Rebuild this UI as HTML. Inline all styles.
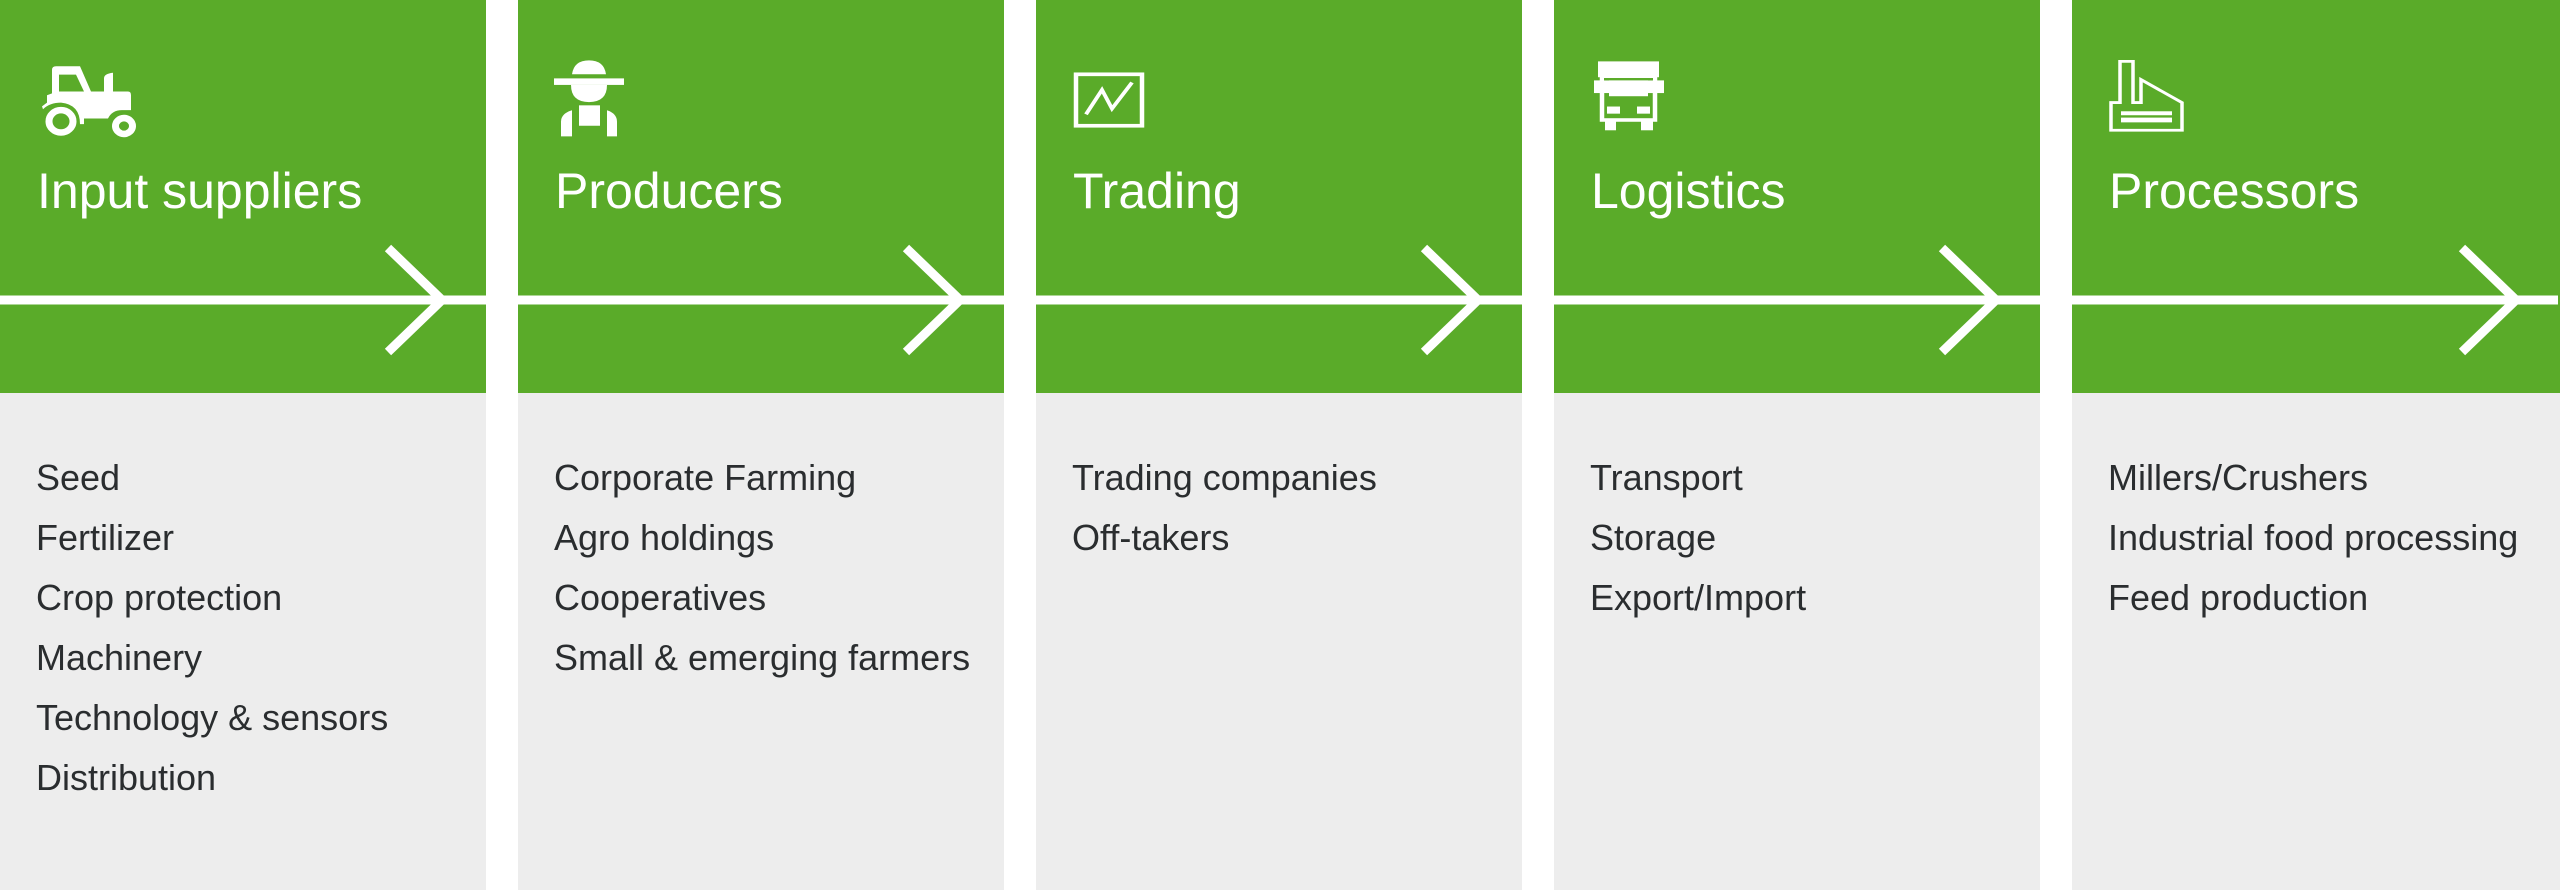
<!DOCTYPE html>
<html><head><meta charset="utf-8"><style>
html,body{margin:0;padding:0;width:2560px;height:890px;overflow:hidden;background:#fff;font-family:"Liberation Sans",sans-serif}
.col{position:absolute;top:0;width:486px;height:890px;background:#ededed}
.hd{position:absolute;left:0;top:0;width:100%;height:393px;background:#5aab29}
.t{position:absolute;left:37px;top:216px;transform:translateY(-100%);color:#fff;font-size:50px;line-height:1;white-space:nowrap}
.l{position:absolute;left:36px;color:#2a2d2f;font-size:36px;line-height:1;white-space:nowrap}
svg{position:absolute;left:0;top:0}
</style></head><body>
<div class="col" style="left:0"><div class="hd"></div></div>
<div class="col" style="left:518px"><div class="hd"></div></div>
<div class="col" style="left:1036px"><div class="hd"></div></div>
<div class="col" style="left:1554px"><div class="hd"></div></div>
<div class="col" style="left:2072px;width:488px"><div class="hd"></div></div>

<svg width="2560" height="890" viewBox="0 0 2560 890">
<g stroke="#fff" stroke-width="9" fill="none">
<line x1="0" y1="300" x2="486" y2="300"/><polyline points="388,248 442,300 388,352"/>
<line x1="518" y1="300" x2="1004" y2="300"/><polyline points="906,248 960,300 906,352"/>
<line x1="1036" y1="300" x2="1522" y2="300"/><polyline points="1424,248 1478,300 1424,352"/>
<line x1="1554" y1="300" x2="2040" y2="300"/><polyline points="1942,248 1996,300 1942,352"/>
<line x1="2072" y1="300" x2="2558" y2="300"/><polyline points="2462,248 2516,300 2462,352"/>
</g>
<!-- tractor -->
<g transform="matrix(1,0,0,0.9333,0,0)">
<g fill="#fff">
<path d="M52 75 Q52 71 56 71 L80 71 L91 98 L104 98 L104 84 Q104 79 113 78 L113 98 L128 98 Q131 98 131 102 L131 118 L122 118 Q112 118 108 127 L84 127 L84 133 L80 133 Q80 112 61 110 Q50 110 43 117 L42 114 L47 110 L47 102 L52 100 Z M59 80 L59 98 L84 98 L76 80 Z"/>
</g>
<g fill="none" stroke="#fff" stroke-width="7">
<circle cx="61" cy="130" r="12"/><circle cx="124" cy="135" r="8.5"/>
</g>
</g>
<!-- farmer -->
<g transform="translate(0,40) scale(1,0.8167) translate(0,-40)" fill="#fff">
<path d="M572 82 Q574 65 589 65 Q604 65 606 82 Z"/>
<rect x="554" y="87" width="70" height="8"/>
<path d="M571 95 L607 95 Q607 116 589 116 Q571 116 571 95 Z"/>
<path d="M561 158 L561 140 Q561 130 572 126 L572 158 Z"/>
<rect x="579" y="120" width="21" height="25"/>
<path d="M607 126 Q617 130 617 140 L617 158 L607 158 Z"/>
</g>
<!-- trading -->
<g transform="translate(0,40) scale(1,0.8167) translate(0,-40)">
<rect x="1076" y="82" width="66" height="63" fill="none" stroke="#fff" stroke-width="4.5"/>
<polyline points="1086,131 1102,101 1112,124 1132,92" fill="none" stroke="#fff" stroke-width="4"/>
</g>
<!-- truck -->
<g transform="translate(0,40) scale(1,0.792) translate(0,-40)">
<g fill="#fff">
<rect x="1598" y="67" width="61" height="20"/>
<rect x="1594" y="91" width="70" height="16"/>
<rect x="1605" y="140" width="11" height="14"/><rect x="1641" y="140" width="12" height="14"/>
</g>
<rect x="1602" y="86" width="53" height="55" fill="none" stroke="#fff" stroke-width="4.5"/>
<rect x="1604" y="88" width="49" height="3" fill="#5aab29"/>
<g fill="#fff"><rect x="1609" y="91" width="39" height="20"/><rect x="1607" y="124" width="13" height="9"/><rect x="1637" y="124" width="13" height="9"/></g>
</g>
<!-- factory -->
<g transform="translate(0,40) scale(1,0.792) translate(0,-40)">
<polygon points="2120,67 2133,67 2133,119 2141,119 2141,90 2182,119 2182,154 2111,154 2111,119 2120,119" fill="none" stroke="#fff" stroke-width="3.5"/>
<rect x="2121" y="130" width="51" height="5" fill="#fff"/>
<rect x="2121" y="138" width="51" height="6" fill="#fff"/>
</g>
</svg>

<div style="position:absolute;left:0;top:0;width:486px"><div class="t">Input suppliers</div></div>
<div style="position:absolute;left:518px;top:0"><div class="t">Producers</div></div>
<div style="position:absolute;left:1036px;top:0"><div class="t">Trading</div></div>
<div style="position:absolute;left:1554px;top:0"><div class="t">Logistics</div></div>
<div style="position:absolute;left:2072px;top:0"><div class="t">Processors</div></div>

<div style="position:absolute;left:0;top:0">
<div class="l" style="top:460px">Seed</div>
<div class="l" style="top:520px">Fertilizer</div>
<div class="l" style="top:580px">Crop protection</div>
<div class="l" style="top:640px">Machinery</div>
<div class="l" style="top:700px">Technology &amp; sensors</div>
<div class="l" style="top:760px">Distribution</div>
</div>
<div style="position:absolute;left:518px;top:0">
<div class="l" style="top:460px">Corporate Farming</div>
<div class="l" style="top:520px">Agro holdings</div>
<div class="l" style="top:580px">Cooperatives</div>
<div class="l" style="top:640px">Small &amp; emerging farmers</div>
</div>
<div style="position:absolute;left:1036px;top:0">
<div class="l" style="top:460px">Trading companies</div>
<div class="l" style="top:520px">Off-takers</div>
</div>
<div style="position:absolute;left:1554px;top:0">
<div class="l" style="top:460px">Transport</div>
<div class="l" style="top:520px">Storage</div>
<div class="l" style="top:580px">Export/Import</div>
</div>
<div style="position:absolute;left:2072px;top:0">
<div class="l" style="top:460px">Millers/Crushers</div>
<div class="l" style="top:520px">Industrial food processing</div>
<div class="l" style="top:580px">Feed production</div>
</div>
</body></html>
